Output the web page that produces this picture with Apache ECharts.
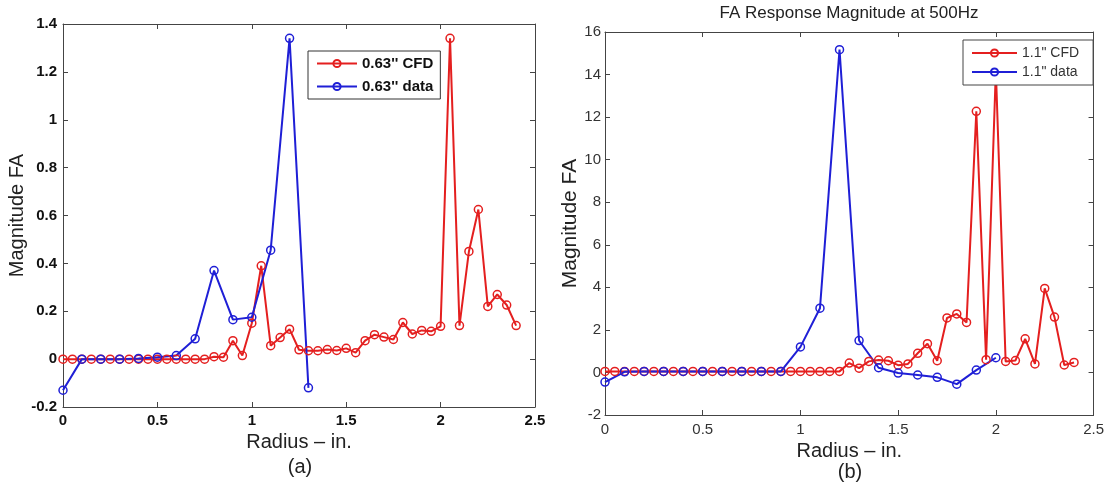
<!DOCTYPE html>
<html><head><meta charset="utf-8">
<script src="https://cdn.jsdelivr.net/npm/echarts@6/dist/echarts.min.js"></script>
<style>html,body{margin:0;padding:0;background:#fff}#c{width:1107px;height:482px}</style>
</head><body><div id="c"></div>
<script>
// ---- data ----
const radiusCfd = [0,0.05,0.1,0.15,0.2,0.25,0.3,0.35,0.4,0.45,0.5,0.55,0.6,0.65,0.7,0.75,0.8,0.85,0.9,0.95,1.0,1.05,1.1,1.15,1.2,1.25,1.3,1.35,1.4,1.45,1.5,1.55,1.6,1.65,1.7,1.75,1.8,1.85,1.9,1.95,2.0,2.05,2.1,2.15,2.2,2.25,2.3,2.35,2.4];
const cfdA = [0,0,0,0,0,0,0,0,0,0,0,0,0,0,0,0,0.01,0.008,0.077,0.015,0.15,0.39,0.056,0.09,0.125,0.039,0.035,0.035,0.04,0.036,0.045,0.027,0.077,0.102,0.092,0.082,0.153,0.105,0.12,0.116,0.137,1.34,0.14,0.45,0.625,0.22,0.27,0.226,0.14];
const radiusDataA = [0,0.1,0.2,0.3,0.4,0.5,0.6,0.7,0.8,0.9,1.0,1.1,1.2,1.3];
const dataA = [-0.13,0,0,0,0.003,0.008,0.015,0.085,0.37,0.165,0.175,0.455,1.34,-0.12];
const cfdB = [0.05,0.05,0.05,0.05,0.05,0.05,0.05,0.05,0.05,0.05,0.05,0.05,0.05,0.05,0.05,0.05,0.05,0.05,0.05,0.05,0.05,0.05,0.05,0.05,0.05,0.44,0.2,0.52,0.58,0.55,0.34,0.4,0.9,1.35,0.55,2.56,2.75,2.35,12.27,0.6,14.2,0.52,0.56,1.58,0.4,3.95,2.6,0.35,0.47];
const radiusDataB = [0,0.1,0.2,0.3,0.4,0.5,0.6,0.7,0.8,0.9,1.0,1.1,1.2,1.3,1.4,1.5,1.6,1.7,1.8,1.9,2.0];
const dataB = [-0.45,0.03,0.05,0.05,0.05,0.05,0.05,0.05,0.05,0.05,1.2,3.02,15.17,1.5,0.22,-0.03,-0.12,-0.23,-0.55,0.11,0.69];
const xTickLabels = ['0','0.5','1','1.5','2','2.5'];
const yTickLabelsA = ['-0.2','0','0.2','0.4','0.6','0.8','1','1.2','1.4'];
const yTickLabelsB = ['-2','0','2','4','6','8','10','12','14','16'];
const namesA = ["0.63'' CFD", "0.63'' data"];
const namesB = ['1.1" CFD', '1.1" data'];

const RED = '#e41f1f', BLUE = '#1f1fd6', AX = '#444';
const FONT = '"Liberation Sans", Arial, sans-serif';
const zip = (xs, ys) => xs.map((x, i) => [x, ys[i]]);
const tickMap = (labels, min, step) => v => {
  const i = Math.round((v - min) / step);
  return labels[i] !== undefined ? labels[i] : '';
};

function axisPair(gridIndex, isX, labels, min, step, bold, color, name, nameGap, nameSize, labelMargin) {
  const max = min + step * (labels.length - 1);
  const base = {
    type: 'value', gridIndex, min, max, interval: step,
    splitLine: { show: false },
    axisLine: { show: true, onZero: false, lineStyle: { color: AX, width: 1 } },
    axisTick: { show: true, inside: true, length: 5, lineStyle: { color: AX } },
  };
  const main = Object.assign({}, base, {
    position: isX ? 'bottom' : 'left',
    axisLabel: {
      show: true, margin: labelMargin, color, fontFamily: FONT, fontSize: 15,
      fontWeight: bold ? 'bold' : 'normal',
      formatter: tickMap(labels, min, step)
    },
    name, nameLocation: 'middle', nameGap,
    nameTextStyle: { fontFamily: FONT, fontSize: nameSize, color: '#222' }
  });
  const sec = Object.assign({}, base, {
    position: isX ? 'top' : 'right',
    axisLabel: { show: false }
  });
  return [main, sec];
}

const [xA, xA2] = axisPair(0, true, xTickLabels, 0, 0.5, true, '#111', 'Radius \u2013 in.', 24, 20, 6);
const [yA, yA2] = axisPair(0, false, yTickLabelsA, -0.2, 0.2, true, '#111', 'Magnitude FA', 31, 20, 6);
const [xB, xB2] = axisPair(1, true, xTickLabels, 0, 0.5, false, '#333', 'Radius \u2013 in.', 22, 20, 7);
const [yB, yB2] = axisPair(1, false, yTickLabelsB, -2, 2, false, '#333', 'Magnitude FA', 23, 21, 4);

function lineSeries(name, data, color, xi, yi) {
  return {
    type: 'line', name, data, xAxisIndex: xi, yAxisIndex: yi,
    symbol: 'circle', symbolSize: 8, showSymbol: true,
    lineStyle: { color, width: 2 },
    itemStyle: { color: 'rgba(255,255,255,0)', borderColor: color, borderWidth: 1.5 },
    animation: false, z: 2
  };
}

const chart = echarts.init(document.getElementById('c'), null, { renderer: 'canvas' });
chart.setOption({
  animation: false,
  backgroundColor: '#fff',
  grid: [
    { left: 63, top: 24, width: 472, height: 383 },
    { left: 605, top: 32, width: 489, height: 383 }
  ],
  xAxis: [xA, xA2, xB, xB2],
  yAxis: [yA, yA2, yB, yB2],
  legend: [
    {
      data: namesA, orient: 'vertical', left: 308, top: 51,
      padding: [4, 7, 4, 8], itemGap: 6, itemWidth: 40, itemHeight: 9,
      backgroundColor: '#fff', borderColor: '#333', borderWidth: 1, borderRadius: 0,
      textStyle: { fontFamily: FONT, fontSize: 15, fontWeight: 'bold', color: '#111', lineHeight: 17 },
      z: 10
    },
    {
      data: namesB, orient: 'vertical', left: 963, top: 40,
      padding: [5, 14, 5, 8], itemGap: 3, itemWidth: 45, itemHeight: 9,
      backgroundColor: '#fff', borderColor: '#444', borderWidth: 1, borderRadius: 0,
      textStyle: { fontFamily: FONT, fontSize: 14, color: '#333', lineHeight: 16 },
      z: 10
    }
  ],
  series: [
    lineSeries(namesA[0], zip(radiusCfd, cfdA), RED, 0, 0),
    lineSeries(namesA[1], zip(radiusDataA, dataA), BLUE, 0, 0),
    lineSeries(namesB[0], zip(radiusCfd, cfdB), RED, 2, 2),
    lineSeries(namesB[1], zip(radiusDataB, dataB), BLUE, 2, 2)
  ],
  graphic: [
    { type: 'text', x: 849, y: 13, style: { text: 'FA Response Magnitude at 500Hz', font: '17px ' + FONT, fill: '#222', align: 'center', verticalAlign: 'middle' } },
    { type: 'text', x: 300, y: 467, style: { text: '(a)', font: '20px ' + FONT, fill: '#222', align: 'center', verticalAlign: 'middle' } },
    { type: 'text', x: 850, y: 472, style: { text: '(b)', font: '20px ' + FONT, fill: '#222', align: 'center', verticalAlign: 'middle' } }
  ]
});
</script></body></html>
